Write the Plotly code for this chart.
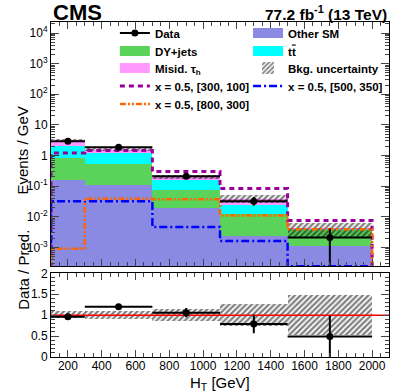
import numpy as np
import plotly.graph_objects as go
from plotly.subplots import make_subplots

# --- data ---
bin_edges = [100, 300, 700, 1100, 1500, 2000]
other_sm = [0.16, 0.105, 0.020, 0.0023, 0.0011]
dy_jets = [0.66, 0.435, 0.052, 0.0103, 0.0027]
ttbar = [1.18, 0.68, 0.082, 0.0124, 0.0002]
misid_tau = [1.10, 0.34, 0.046, 0.013, 0.0002]
unc_up = [3.4, 1.72, 0.23, 0.052, 0.0063]
unc_dn = [2.8, 1.40, 0.17, 0.029, 0.0022]

data_y = [2.9, 1.86, 0.21, 0.032, 0.0021]
data_err_up = [0.2, 0.08, 0.025, 0.012, 0.002]
data_err_dn = [0.2, 0.08, 0.025, 0.009, 0.00209]

sig_300_100 = [1.2, 1.45, 0.30, 0.083, 0.0076]
sig_500_350 = [0.032, 0.032, 0.0046, 0.0016, 0.00024]
sig_800_300 = [0.0009, 0.039, 0.037, 0.011, 0.0039]

ratio_y = [0.96, 1.20, 1.06, 0.79, 0.49]
ratio_err_up = [0.04, 0.04, 0.11, 0.22, 0.50]
ratio_err_dn = [0.04, 0.04, 0.11, 0.22, 0.49]
ratio_unc_dn = [0.92, 0.91, 0.85, 0.74, 0.52]
ratio_unc_up = [1.08, 1.09, 1.15, 1.27, 1.48]

edges = np.array(bin_edges, dtype=float)
centers = 0.5 * (edges[1:] + edges[:-1])
widths = edges[1:] - edges[:-1]

FONT = "Liberation Sans"
HATCH = dict(shape="/", fgcolor="black", bgcolor="rgba(0,0,0,0)", size=4, solidity=0.55, fillmode="overlay")
NONE = [None]

# one legend box per entry so the rows sit where the reference has them
# (column x in paper units, row centre in px from the top of the figure)
COL_L, COL_R = 0.189, 0.583
leg_pos = {
    "data": (COL_L, 33), "other": (COL_R, 33),
    "dy": (COL_L, 51), "tt": (COL_R, 51),
    "misid": (COL_L, 68), "unc": (COL_R, 68),
    "s300": (COL_L, 86), "s500": (COL_R, 86),
    "s800": (COL_L, 104),
}
leg_names = {k: ("legend" if i == 0 else f"legend{i + 1}") for i, k in enumerate(leg_pos)}

fig = make_subplots(rows=2, cols=1, shared_xaxes=True, vertical_spacing=0.021,
                    row_heights=[0.745, 0.255])

# stacked backgrounds (bars), legend drawn with thick-line proxies
stack = [("Other SM", other_sm, "#8a8ae3", "other"),
         ("DY+jets", dy_jets, "#5bd35b", "dy"),
         ("t<span style='text-decoration:overline'>t</span>", ttbar, "#00ffff", "tt"),
         ("Misid. τ<sub>h</sub>", misid_tau, "#ff99ff", "misid")]
base = np.zeros(len(centers))
for name, vals, col, key in stack:
    vals = np.array(vals)
    fig.add_trace(go.Bar(x=centers, y=vals, width=widths, base=base if base.any() else None,
                         marker=dict(color=col, line_width=0), showlegend=False),
                  row=1, col=1)
    base = base + vals

up = np.array(unc_up)
dn = np.array(unc_dn)
fig.add_trace(go.Bar(x=centers, y=up - dn, base=dn, width=widths, name="Bkg. uncertainty",
                     legend=leg_names["unc"],
                     marker=dict(color="rgba(0,0,0,0)", line_width=0, pattern=HATCH)),
              row=1, col=1)


def step(vals):
    xs = [edges[0]] + list(edges) + [edges[-1]]
    ys = [1e-6] + list(vals) + [vals[-1], 1e-6]
    return xs, ys


signals = [("x = 0.5, [300, 100]", sig_300_100, "#990099", "5px,4px", 3, "s300"),
           ("x = 0.5, [500, 350]", sig_500_350, "#0000ff", "8px,3px,2px,3px", 2.5, "s500"),
           ("x = 0.5, [800, 300]", sig_800_300, "#ff6600", "6px,2px,2px,2px,2px,2px", 2.5, "s800")]
for name, vals, col, dash, w, key in signals:
    xs, ys = step(vals)
    fig.add_trace(go.Scatter(x=xs, y=ys, mode="lines", line=dict(color=col, dash=dash, width=w, shape="hv"),
                             name=name, legend=leg_names[key]), row=1, col=1)

fig.add_trace(go.Scatter(x=centers, y=data_y, mode="markers", showlegend=False,
                         marker=dict(color="black", size=7),
                         error_x=dict(type="data", array=widths / 2, color="black", thickness=2, width=0),
                         error_y=dict(type="data", array=data_err_up, arrayminus=data_err_dn,
                                      color="black", thickness=2, width=0)),
              row=1, col=1)

# legend proxies
fig.add_trace(go.Scatter(x=NONE, y=NONE, mode="lines+markers", name="Data", legend=leg_names["data"],
                         line=dict(color="black", width=2), marker=dict(color="black", size=7)), row=1, col=1)
for name, vals, col, key in stack:
    fig.add_trace(go.Scatter(x=NONE, y=NONE, mode="lines", name=name, legend=leg_names[key],
                             line=dict(color=col, width=10)), row=1, col=1)

# ratio panel
rup = np.array(ratio_unc_up)
rdn = np.array(ratio_unc_dn)
fig.add_trace(go.Bar(x=centers, y=rup - rdn, base=rdn, width=widths, showlegend=False,
                     marker=dict(color="rgba(0,0,0,0)", line_width=0, pattern=HATCH)),
              row=2, col=1)
fig.add_trace(go.Scatter(x=[edges[0], 2100], y=[1, 1], mode="lines", line=dict(color="red", width=1.5),
                         showlegend=False), row=2, col=1)
fig.add_trace(go.Scatter(x=centers, y=ratio_y, mode="markers", showlegend=False,
                         marker=dict(color="black", size=7),
                         error_x=dict(type="data", array=widths / 2, color="black", thickness=2, width=0),
                         error_y=dict(type="data", array=ratio_err_up, arrayminus=ratio_err_dn,
                                      color="black", thickness=2, width=0)),
              row=2, col=1)

axis_common = dict(showline=True, linecolor="black", linewidth=1, mirror="ticks", ticks="inside",
                   showgrid=False, zeroline=False, automargin=False,
                   tickfont=dict(family=FONT, size=12, color="black"))

fig.update_xaxes(range=[100, 2100], tick0=0, dtick=200, ticklen=7, ticklabelstandoff=-2,
                 minor=dict(dtick=50, ticklen=4, ticks="inside"), **axis_common)
fig.update_xaxes(showticklabels=False, row=1, col=1)

decades = [1e-3, 1e-2, 1e-1, 1, 10, 1e2, 1e3, 1e4]
dec_text = ["10<sup>-3</sup>", "10<sup>-2</sup>", "10<sup>-1</sup>", "1", "10",
            "10<sup>2</sup>", "10<sup>3</sup>", "10<sup>4</sup>"]
minor_vals = [m * 10.0 ** e for e in range(-4, 5) for m in range(2, 10)]
fig.update_yaxes(type="log", range=[-3.62, 4.36], tickvals=decades, ticktext=dec_text, ticklen=8,
                 minor=dict(tickmode="array", tickvals=minor_vals, ticklen=4, ticks="inside"),
                 row=1, col=1, **axis_common)
fig.update_yaxes(range=[0, 2], tickvals=[0, 0.5, 1, 1.5, 2], ticktext=["0", "0.5", "1", "1.5", "2"],
                 ticklen=8, minor=dict(dtick=0.1, ticklen=4, ticks="inside"), row=2, col=1, **axis_common)

annos = [
    dict(text="<b>CMS</b>", x=0, y=1.028, xref="paper", yref="paper", xanchor="left", yanchor="middle",
         font=dict(family=FONT, size=22, color="black"), showarrow=False),
    dict(text="<b>77.2 fb<sup>-1</sup> (13 TeV)</b>", x=1, y=1.028, xref="paper", yref="paper",
         xanchor="right", yanchor="middle", font=dict(family=FONT, size=15.5, color="black"), showarrow=False),
    dict(text="Events / GeV", x=-0.115, y=0.615, xref="paper", yref="paper", textangle=-90,
         font=dict(family=FONT, size=15, color="black"), showarrow=False),
    dict(text="Data / Pred.", x=-0.115, y=0.134, xref="paper", yref="paper", textangle=-90,
         font=dict(family=FONT, size=15, color="black"), showarrow=False),
    dict(text="H<sub>T</sub> [GeV]", x=0.5, y=-0.079, xref="paper", yref="paper", yanchor="middle",
         font=dict(family=FONT, size=15, color="black"), showarrow=False),
]

PLOT_TOP, PLOT_H = 22, 335
legends = {}
for key, (lx, ly) in leg_pos.items():
    legends[leg_names[key]] = dict(
        x=lx, y=1 - (ly - PLOT_TOP) / PLOT_H, xanchor="left", yanchor="middle",
        itemwidth=30, bgcolor="rgba(0,0,0,0)", itemclick=False, itemdoubleclick=False,
        font=dict(family=FONT, size=11.5, color="black", weight="bold"))

fig.update_layout(
    width=411, height=392, margin=dict(l=51, r=22, t=PLOT_TOP, b=35),
    plot_bgcolor="white", paper_bgcolor="white", barmode="overlay", bargap=0,
    font=dict(family=FONT, color="black"),
    annotations=annos,
    **legends,
)

fig.write_html("out.html", config={"displayModeBar": False},
               post_script="document.body.style.margin='0';")
